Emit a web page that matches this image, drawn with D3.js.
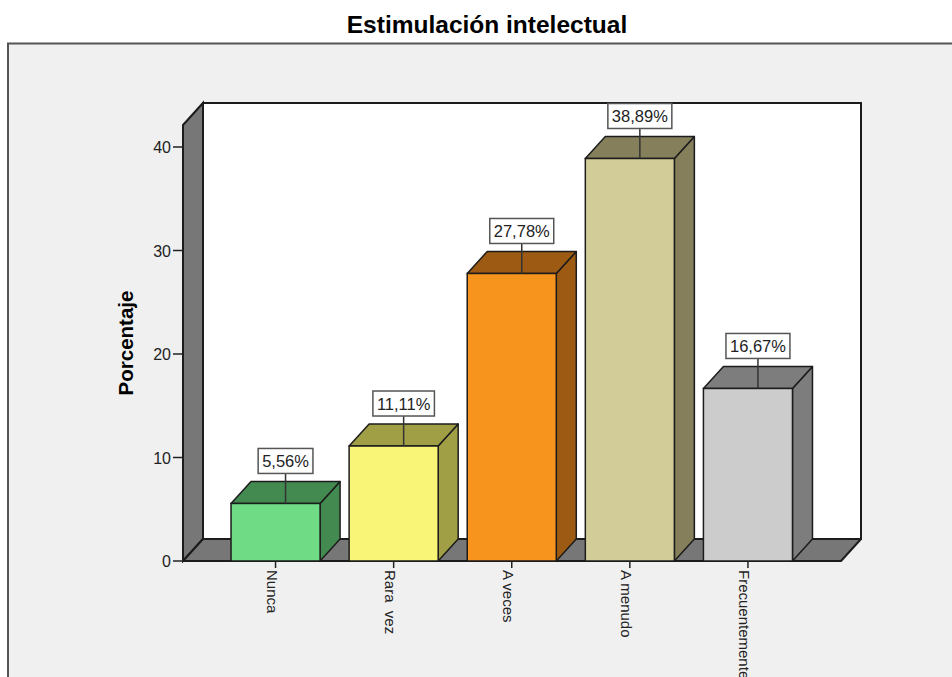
<!DOCTYPE html>
<html>
<head>
<meta charset="utf-8">
<script src="https://cdn.jsdelivr.net/npm/d3@7/dist/d3.min.js"></script>
<style>
  html, body { margin: 0; padding: 0; background: #ffffff; }
  svg { display: block; font-family: "Liberation Sans", Arial, sans-serif; }
  text { white-space: pre; }
</style>
</head>
<body>
<svg id="chart" width="952" height="677"></svg>
<script>
// Response categories and their percentages
const categories = ["Nunca", "Rara  vez", "A veces", "A menudo", "Frecuentemente"];
const percentages = [5.56, 11.11, 27.78, 38.89, 16.67];
const yTicks = [0, 10, 20, 30, 40];
const frontColors = ["#6fdc85", "#f8f577", "#f7941d", "#d2cd98", "#cccccc"];
const shadeColors = ["#428a50", "#a19f46", "#9c5a12", "#857f5c", "#7d7d7d"];

const svg = d3.select("#chart");
const W = 952, H = 677;

// 3D depth offset of the box
const dx = 20, dy = -22;
const yMax = 42.13;

const x = d3.scaleBand()
  .domain(categories)
  .range([216.5, 807])
  .paddingInner(0.246)
  .paddingOuter(0.123);

const y = d3.scaleLinear().domain([0, 40]).range([561, 147]);

const xLeft = 183, xRight = 841;
const y0 = y(0), yTop = y(yMax);

const fmt = v => d3.format(".2f")(v).replace(".", ",") + "%";
const edge = "#1c1c1c";

// Title
svg.append("text")
  .attr("x", 487).attr("y", 33)
  .attr("text-anchor", "middle")
  .attr("font-size", 24.5).attr("font-weight", "bold")
  .attr("fill", "#000")
  .text("Estimulación intelectual");

// Outer chart frame
svg.append("rect")
  .attr("x", 8).attr("y", 43.5)
  .attr("width", W + 20).attr("height", H)
  .attr("fill", "#f0f0f0")
  .attr("stroke", "#555").attr("stroke-width", 2);

// Back wall
svg.append("polygon")
  .attr("points", [[xLeft + dx, yTop + dy], [xRight + dx, yTop + dy], [xRight + dx, y0 + dy], [xLeft + dx, y0 + dy]].join(" "))
  .attr("fill", "#ffffff").attr("stroke", edge).attr("stroke-width", 2);

// Left wall
svg.append("polygon")
  .attr("points", [[xLeft, yTop], [xLeft + dx, yTop + dy], [xLeft + dx, y0 + dy], [xLeft, y0]].join(" "))
  .attr("fill", "#777777").attr("stroke", edge).attr("stroke-width", 2);

// Floor
svg.append("polygon")
  .attr("points", [[xLeft, y0], [xLeft + dx, y0 + dy], [xRight + dx, y0 + dy], [xRight, y0]].join(" "))
  .attr("fill", "#777777").attr("stroke", edge).attr("stroke-width", 2)
  .attr("stroke-linejoin", "round");

// Y axis ticks and labels
const yAxis = svg.append("g");
yTicks.forEach(t => {
  yAxis.append("line")
    .attr("x1", xLeft - 10).attr("x2", xLeft)
    .attr("y1", y(t)).attr("y2", y(t))
    .attr("stroke", "#222").attr("stroke-width", 1.5);
  yAxis.append("text")
    .attr("x", xLeft - 12).attr("y", y(t) + 6)
    .attr("text-anchor", "end")
    .attr("font-size", 16).attr("fill", "#222")
    .text(t);
});

// Y axis title
svg.append("text")
  .attr("transform", "translate(133,343) rotate(-90)")
  .attr("text-anchor", "middle")
  .attr("font-size", 20.5).attr("font-weight", "bold")
  .attr("fill", "#000")
  .text("Porcentaje");

// Bars drawn as boxes: front face, top face, right side face
const bars = svg.append("g");
categories.forEach((c, i) => {
  const v = percentages[i];
  const x0 = x(c), x1 = x(c) + x.bandwidth();
  const yv = y(v);
  const g = bars.append("g");
  g.append("polygon")
    .attr("points", [[x1, yv], [x1 + dx, yv + dy], [x1 + dx, y0 + dy], [x1, y0]].join(" "))
    .attr("fill", shadeColors[i]).attr("stroke", edge).attr("stroke-width", 1.5)
    .attr("stroke-linejoin", "round");
  g.append("polygon")
    .attr("points", [[x0, yv], [x0 + dx, yv + dy], [x1 + dx, yv + dy], [x1, yv]].join(" "))
    .attr("fill", shadeColors[i]).attr("stroke", edge).attr("stroke-width", 1.5)
    .attr("stroke-linejoin", "round");
  g.append("rect")
    .attr("x", x0).attr("y", yv)
    .attr("width", x1 - x0).attr("height", y0 - yv)
    .attr("fill", frontColors[i]).attr("stroke", edge).attr("stroke-width", 1.5);
});

// X ticks and rotated category labels
categories.forEach(c => {
  const cx = x(c) + x.bandwidth() / 2;
  svg.append("line")
    .attr("x1", cx).attr("x2", cx)
    .attr("y1", y0).attr("y2", y0 + 7)
    .attr("stroke", "#222").attr("stroke-width", 1.5);
  svg.append("text")
    .attr("transform", `translate(${cx - 8.5},${y0 + 9}) rotate(90)`)
    .attr("font-size", 15).attr("fill", "#222")
    .text(c);
});

// Value callouts with leader lines
categories.forEach((c, i) => {
  const v = percentages[i];
  const cx = x(c) + x.bandwidth() / 2 + dx / 2;
  const yv = y(v);
  const boxBottom = yv + dy - 8;
  const boxH = 25;
  const g = svg.append("g");
  g.append("line")
    .attr("x1", cx).attr("x2", cx)
    .attr("y1", boxBottom).attr("y2", yv)
    .attr("stroke", "#333").attr("stroke-width", 1.5);
  const rect = g.append("rect")
    .attr("fill", "#ffffff").attr("stroke", "#555").attr("stroke-width", 1.5);
  const t = g.append("text")
    .attr("x", cx).attr("y", boxBottom - 6.5)
    .attr("text-anchor", "middle")
    .attr("font-size", 16.5).attr("fill", "#222")
    .text(fmt(v));
  const w = t.node().getComputedTextLength() + 8;
  rect.attr("x", cx - w / 2).attr("y", boxBottom - boxH)
    .attr("width", w).attr("height", boxH);
});
</script>
</body>
</html>
